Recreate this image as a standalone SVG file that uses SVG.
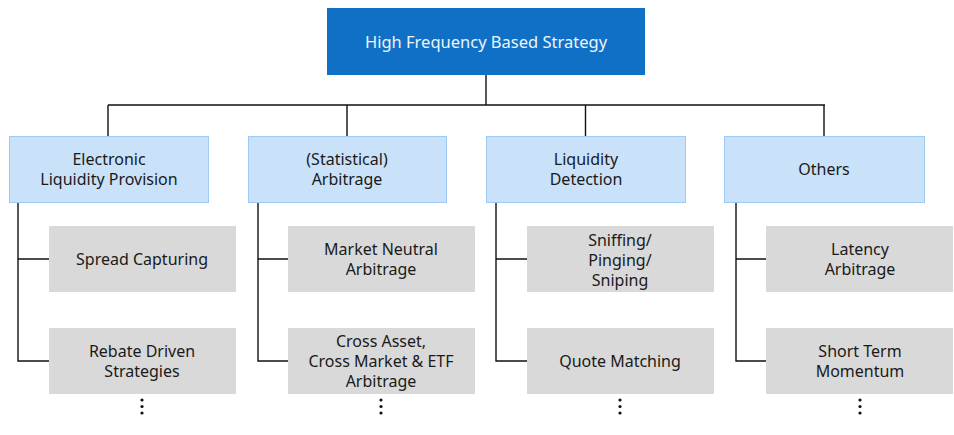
<svg xmlns="http://www.w3.org/2000/svg" width="954" height="435" viewBox="0 0 954 435">
<style>
text{font-family:"Noto Sans","Open Sans","DejaVu Sans",sans-serif;font-size:16px;text-anchor:middle;fill:#1a1a1a}
.top{fill:#1070C6}
.top-t{fill:#EEF4FA;font-size:16.5px}
.cat{fill:#C9E2F9;stroke:#9DCBF3;stroke-width:1}
.leaf{fill:#D9D9D9}
.conn{fill:none;stroke:#111;stroke-width:1.4}
.dot{fill:#111}
</style>
<rect width="954" height="435" fill="#fff"/>
<g id="connectors">
<path class="conn" d="M486 74V105M108 105H825M108 105V136M347 105V136M585.5 105V136M824 105V136"/>
<path class="conn" d="M18 202V361H49M18 259H49"/>
<path class="conn" d="M258 202V361H288M258 259H288"/>
<path class="conn" d="M496 202V361H527M496 259H527"/>
<path class="conn" d="M736 202V361H766M736 259H766"/>
</g>
<g id="root"><rect class="top" x="327" y="8" width="318" height="67"/><text class="top-t" x="486" y="48">High Frequency Based Strategy</text></g>
<g id="cat1"><rect class="cat" x="9.5" y="136.5" width="199" height="66"/><text x="109" y="165">Electronic</text><text x="109" y="185">Liquidity Provision</text></g>
<g id="cat2"><rect class="cat" x="248.5" y="136.5" width="198" height="66"/><text x="347" y="165">(Statistical)</text><text x="347" y="185">Arbitrage</text></g>
<g id="cat3"><rect class="cat" x="486.5" y="136.5" width="199" height="66"/><text x="586" y="165">Liquidity</text><text x="586" y="185">Detection</text></g>
<g id="cat4"><rect class="cat" x="724.5" y="136.5" width="200" height="66"/><text x="824" y="175">Others</text></g>
<g id="leaf1a"><rect class="leaf" x="49" y="226" width="187" height="66"/><text x="142" y="265">Spread Capturing</text></g>
<g id="leaf1b"><rect class="leaf" x="49" y="328" width="187" height="66"/><text x="142" y="357">Rebate Driven</text><text x="142" y="377">Strategies</text></g>
<g id="leaf2a"><rect class="leaf" x="288" y="226" width="187" height="66"/><text x="381" y="255">Market Neutral</text><text x="381" y="275">Arbitrage</text></g>
<g id="leaf2b"><rect class="leaf" x="288" y="328" width="187" height="66"/><text x="381" y="347">Cross Asset,</text><text x="381" y="367">Cross Market &amp; ETF</text><text x="381" y="387">Arbitrage</text></g>
<g id="leaf3a"><rect class="leaf" x="527" y="226" width="187" height="66"/><text x="620" y="246">Sniffing/</text><text x="620" y="266">Pinging/</text><text x="620" y="286">Sniping</text></g>
<g id="leaf3b"><rect class="leaf" x="527" y="328" width="187" height="66"/><text x="620" y="367">Quote Matching</text></g>
<g id="leaf4a"><rect class="leaf" x="766" y="226" width="187" height="66"/><text x="860" y="255">Latency</text><text x="860" y="275">Arbitrage</text></g>
<g id="leaf4b"><rect class="leaf" x="766" y="328" width="187" height="66"/><text x="860" y="357">Short Term</text><text x="860" y="377">Momentum</text></g>
<g id="dots">
<circle class="dot" cx="142" cy="400" r="1.6"/><circle class="dot" cx="142" cy="406.5" r="1.6"/><circle class="dot" cx="142" cy="413" r="1.6"/>
<circle class="dot" cx="381" cy="400" r="1.6"/><circle class="dot" cx="381" cy="406.5" r="1.6"/><circle class="dot" cx="381" cy="413" r="1.6"/>
<circle class="dot" cx="620" cy="400" r="1.6"/><circle class="dot" cx="620" cy="406.5" r="1.6"/><circle class="dot" cx="620" cy="413" r="1.6"/>
<circle class="dot" cx="860" cy="400" r="1.6"/><circle class="dot" cx="860" cy="406.5" r="1.6"/><circle class="dot" cx="860" cy="413" r="1.6"/>
</g>
</svg>
